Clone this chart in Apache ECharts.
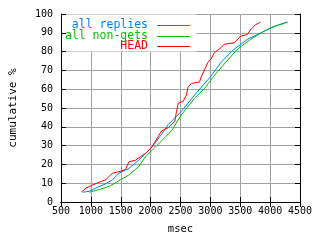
<!DOCTYPE html>
<html>
<head>
<meta charset="utf-8">
<script src="https://cdn.jsdelivr.net/npm/echarts@6/dist/echarts.min.js"></script>
<style>
  html, body { margin: 0; padding: 0; background: #fff; }
  #chart { width: 320px; height: 240px; }
</style>
</head>
<body>
<div id="chart"></div>
<script>
// cumulative response time curves
var allMs = [864, 974, 1083, 1249, 1360, 1470, 1636, 1801, 1910, 2021, 2186, 2297, 2517, 2736, 3012, 3178, 3397, 3619, 3839, 4059, 4290]
var allPct = [5.2, 5.7, 7.4, 9.7, 11.8, 15.3, 17.9, 22.2, 25.7, 29.2, 36.1, 41.3, 48.3, 56.9, 67, 74.3, 81.3, 86.5, 89.9, 93.4, 95.7]

var nonGetMs = [974, 1140, 1305, 1470, 1636, 1801, 1910, 2021, 2131, 2186, 2351, 2517, 2736, 2902, 3067, 3232, 3454, 3674, 3893, 4114, 4290]
var nonGetPct = [5.2, 6.6, 8.3, 11.3, 14.4, 18.8, 24.0, 27.4, 30.9, 32.7, 37.9, 46.5, 55.2, 60.4, 67.3, 73.4, 81.3, 86.5, 90.8, 93.8, 95.7]

var headMs = [847, 918, 1001, 1166, 1249, 1360, 1470, 1579, 1636, 1745, 1827, 1910, 2021, 2186, 2297, 2406, 2434, 2462, 2545, 2599, 2627, 2682, 2819, 2847, 2958, 3012, 3067, 3178, 3232, 3397, 3508, 3619, 3674, 3756, 3839]
var headPct = [5.4, 7.4, 8.7, 10.9, 11.8, 15.3, 16.1, 17.3, 21.4, 22.2, 24.0, 25.7, 29.2, 37.9, 39.6, 43.1, 48.3, 52.6, 53.5, 56.9, 61.3, 63.0, 63.9, 66.5, 74.3, 76.0, 79.5, 82.1, 83.9, 84.7, 88.2, 89.1, 91.7, 94.3, 95.7]

var seriesNames = ['all replies', 'all non-gets', 'HEAD']
var seriesColors = ['#0080ff', '#00c000', '#ff0000']
var legendTops = [19.5, 30.5, 40.5]

function zip(xs, ys) {
  var out = []
  for (var i = 0; i < xs.length; i++) out.push([xs[i], ys[i]])
  return out
}

var font = 'DejaVu Sans Mono'
var gray = '#a0a0a0'

function xAx(pos, opts) {
  return Object.assign({
    type: 'value', position: pos, min: 500, max: 4500, interval: 500,
    axisLine: { show: true, lineStyle: { color: '#000', width: 1 } },
    axisTick: { show: true, inside: true, length: 5, lineStyle: { color: '#000' } },
    axisLabel: { show: false },
    splitLine: { show: false },
    z: 3
  }, opts)
}
function yAx(pos, opts) {
  return Object.assign({
    type: 'value', position: pos, min: 0, max: 100, interval: 10,
    axisLine: { show: true, lineStyle: { color: '#000', width: 1 } },
    axisTick: { show: true, inside: true, length: 5, lineStyle: { color: '#000' } },
    axisLabel: { show: false },
    splitLine: { show: false },
    z: 3
  }, opts)
}

var legends = seriesNames.map(function (n, i) {
  return {
    data: [{ name: n, itemStyle: { color: seriesColors[i] } }],
    right: 130,
    top: legendTops[i],
    padding: 0,
    align: 'right',
    icon: 'rect',
    itemWidth: 33,
    itemHeight: 1,
    textStyle: { fontFamily: font, fontSize: 11.5, color: seriesColors[i], padding: [0, 4, 0, 0] },
    selectedMode: false
  }
})

var chart = echarts.init(document.getElementById('chart'), null, { renderer: 'canvas' })
chart.setOption({
  animation: false,
  backgroundColor: '#fff',
  grid: { left: 58, right: 20, top: 14, bottom: 34 },
  legend: legends,
  xAxis: [
    xAx('bottom', {
      axisLabel: { show: true, fontFamily: font, fontSize: 10, color: '#000', margin: 4,
        formatter: function (v) { return String(v) } },
      name: 'msec', nameLocation: 'middle', nameGap: 22,
      nameTextStyle: { fontFamily: font, fontSize: 10.5, color: '#000' }
    }),
    xAx('top'),
    xAx('bottom', { axisLine: { show: false }, axisTick: { show: false },
      splitLine: { show: true, lineStyle: { color: gray, width: 1 } }, z: 0 })
  ],
  yAxis: [
    yAx('left', {
      axisLabel: { show: true, fontFamily: font, fontSize: 10, color: '#000', margin: 8 },
      name: 'cumulative %', nameLocation: 'middle', nameGap: 42,
      nameTextStyle: { fontFamily: font, fontSize: 11, color: '#000' }
    }),
    yAx('right'),
    yAx('left', { axisLine: { show: false }, axisTick: { show: false },
      splitLine: { show: true, lineStyle: { color: gray, width: 1 } }, z: 0 })
  ],
  graphic: [{
    type: 'rect', z: 1,
    shape: { x: 58.5, y: 14.5, width: 138, height: 37 },
    style: { fill: '#fff' }
  }],
  series: [
    { name: seriesNames[0], type: 'line', data: zip(allMs, allPct) },
    { name: seriesNames[1], type: 'line', data: zip(nonGetMs, nonGetPct) },
    { name: seriesNames[2], type: 'line', data: zip(headMs, headPct) }
  ].map(function (s, i) {
    return Object.assign(s, {
      showSymbol: false, symbol: 'none', z: 2,
      lineStyle: { color: seriesColors[i], width: 1 },
      itemStyle: { color: seriesColors[i] }
    })
  })
})
</script>
</body>
</html>
